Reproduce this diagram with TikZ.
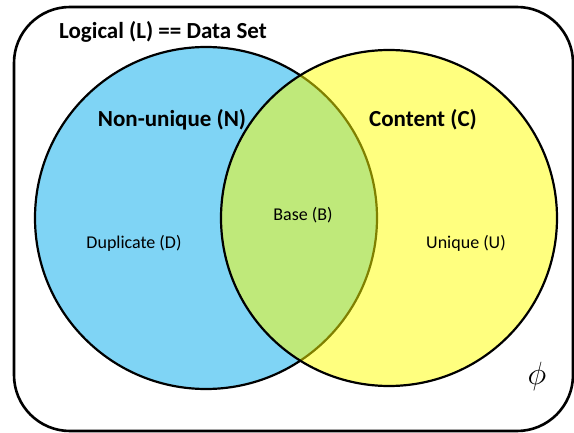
\documentclass[tikz,border=0pt]{standalone}
\usepackage{fontspec}
\setsansfont{Carlito}
\definecolor{setblue}{RGB}{127,212,245}
\definecolor{setyellow}{RGB}{255,255,0}
\begin{document}
\begin{tikzpicture}[x=1pt,y=-1pt,
  title/.style={font=\sffamily\bfseries\fontsize{23}{26}\selectfont, inner sep=0pt},
  region/.style={font=\sffamily\fontsize{18}{21}\selectfont, inner sep=0pt},
  outline/.style={line width=2.2pt}]
\useasboundingbox (0,0) rectangle (574,433);
% universe: the data set
\draw[line width=2.6pt, rounded corners=56pt] (14,7) rectangle (573,431);
% non-unique set
\fill[setblue] (206,218) circle[radius=171pt];
\draw[outline] (206,218) circle[radius=171pt];
% content set, half transparent so the overlap turns green
\fill[setyellow, fill opacity=0.5] (389,218) circle[radius=168pt];
\draw[outline] (389,218) circle[radius=168pt];
% labels
\node[title, anchor=west] (L) at (59,32) {Logical (L) == Data Set};
\node[title] (N) at (172,120) {Non-unique (N)};
\node[title] (C) at (423,120) {Content (C)};
\node[region] (D) at (134,243) {Duplicate (D)};
\node[region] (B) at (303,215) {Base (B)};
\node[region] (U) at (466,243) {Unique (U)};
\node[inner sep=0pt, scale=1.55] (phi) at (537,376) {\huge$\phi$};
\end{tikzpicture}
\end{document}
